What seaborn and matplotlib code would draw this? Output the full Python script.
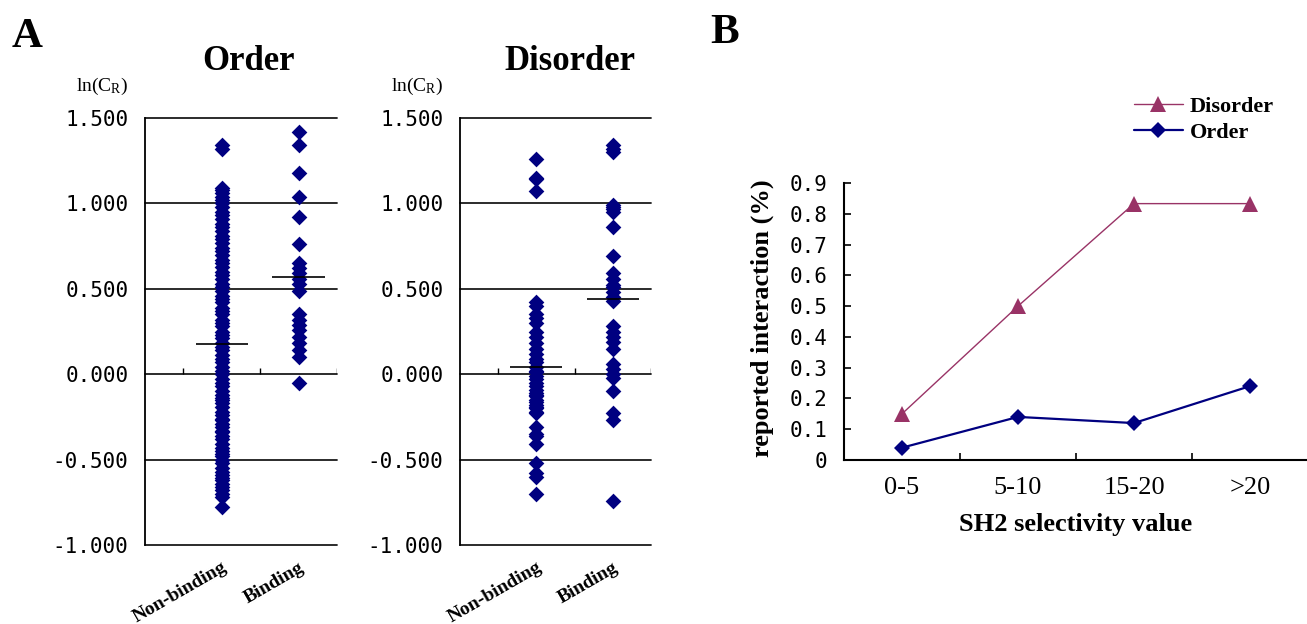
import pandas as pd
import matplotlib
matplotlib.use('Agg')
import matplotlib.pyplot as plt
import seaborn as sns

# Panel A: ln(C_R) values
order_nonbinding = [1.34, 1.32,
                    1.09, 1.08, 1.06, 1.04, 1.02, 1.00, 0.98, 0.95, 0.93, 0.91,
                    0.88, 0.86, 0.84, 0.81, 0.79, 0.77, 0.74, 0.72, 0.70, 0.67,
                    0.65, 0.63, 0.60, 0.58, 0.56, 0.53, 0.51, 0.49, 0.46, 0.44,
                    0.42, 0.39, 0.37, 0.35, 0.32, 0.30, 0.28, 0.25, 0.23, 0.21,
                    0.18, 0.16, 0.14, 0.11, 0.09, 0.07, 0.04, 0.02, 0.00, -0.03,
                    -0.05, -0.07, -0.10, -0.12, -0.14, -0.15, -0.17, -0.19, -0.22,
                    -0.24, -0.26, -0.27, -0.29, -0.31, -0.33, -0.34, -0.36, -0.38,
                    -0.41, -0.43, -0.45, -0.47, -0.48, -0.50, -0.52, -0.55, -0.57,
                    -0.59, -0.61, -0.62, -0.64, -0.66, -0.68, -0.70, -0.72, -0.78]
order_binding = [1.42, 1.34, 1.18, 1.04, 0.92, 0.76, 0.65, 0.62, 0.59, 0.56, 0.53,
                 0.49, 0.35, 0.32, 0.29, 0.26, 0.22, 0.18, 0.14, 0.10, -0.05]
disorder_nonbinding = [1.26, 1.15, 1.14, 1.07, 0.42, 0.40, 0.35, 0.33, 0.30, 0.25,
                       0.22, 0.18, 0.15, 0.12, 0.09, 0.07, 0.04, 0.02, 0.01, -0.01,
                       -0.03, -0.05, -0.07, -0.09, -0.11, -0.12, -0.13, -0.15, -0.16,
                       -0.18, -0.19, -0.20, -0.22, -0.23, -0.31, -0.35, -0.36, -0.41,
                       -0.52, -0.58, -0.60, -0.70]
disorder_binding = [1.34, 1.32, 1.30, 0.99, 0.98, 0.97, 0.95, 0.86, 0.69, 0.59, 0.56,
                    0.52, 0.51, 0.48, 0.45, 0.43, 0.28, 0.25, 0.22, 0.19, 0.15, 0.06,
                    0.03, 0.00, -0.02, -0.10, -0.23, -0.27, -0.74]
groups = ['Non-binding', 'Binding']
a_ticks = [-1.0, -0.5, 0.0, 0.5, 1.0, 1.5]

# Panel B: reported interaction (%) by SH2 selectivity value
sh2_bins = ['0-5', '5-10', '15-20', '>20']
disorder_pct = [0.15, 0.50, 0.833, 0.833]
order_pct = [0.04, 0.14, 0.12, 0.24]
b_ticks = [0, 0.1, 0.2, 0.3, 0.4, 0.5, 0.6, 0.7, 0.8, 0.9]
b_tick_labels = ['0', '0.1', '0.2', '0.3', '0.4', '0.5', '0.6', '0.7', '0.8', '0.9']

NAVY = '#000080'
PLUM = '#993366'
SERIF = 'Liberation Serif'
MONO = 'DejaVu Sans Mono'
W, H = 1307, 624

sns.set_style('white')
plt.rcParams['font.family'] = SERIF
plt.rcParams['mathtext.fontset'] = 'custom'
plt.rcParams['mathtext.rm'] = SERIF
plt.rcParams['mathtext.it'] = SERIF + ':italic'
for key in ['text.color', 'axes.labelcolor', 'xtick.color', 'ytick.color']:
    plt.rcParams[key] = 'black'

fig = plt.figure(figsize=(W / 100, H / 100), dpi=100)


def px_axes(left, top, right, bottom):
    return fig.add_axes([left / W, 1 - bottom / H, (right - left) / W, (bottom - top) / H])


def scatter_panel(ax, nonbinding, binding):
    df = pd.DataFrame({'group': ['Non-binding'] * len(nonbinding) + ['Binding'] * len(binding),
                       'lncr': nonbinding + binding})
    sns.stripplot(data=df, x='group', y='lncr', order=groups, jitter=False, marker='D',
                  size=8, color=NAVY, linewidth=0, ax=ax, zorder=3)
    # group means drawn as short horizontal bars
    means = df.groupby('group')['lncr'].mean()
    for i, g in enumerate(groups):
        ax.hlines(means[g], i - 0.34, i + 0.34, color='black', lw=1.2, zorder=4)
    ax.set_xlim(-1, 1.5)
    ax.set_ylim(-1, 1.5)
    for y in a_ticks:
        ax.axhline(y, color='#1a1a1a', lw=1.3, zorder=1, clip_on=False)
    ax.vlines([-0.5, 0.5, 1.5], 0, 0.035, color='black', lw=1, zorder=1)
    ax.set_yticks(a_ticks)
    ax.set_yticklabels([f'{v:.3f}' for v in a_ticks], fontfamily=MONO, fontsize=15)
    ax.tick_params(axis='y', length=0, pad=12)
    ax.set_xticks([0, 1])
    ax.set_xticklabels(groups, rotation=30, ha='right', rotation_mode='anchor',
                       fontweight='bold', fontsize=14)
    ax.tick_params(axis='x', length=0, pad=10)
    for side in ['top', 'right', 'bottom']:
        ax.spines[side].set_visible(False)
    ax.spines['left'].set_color('black')
    ax.spines['left'].set_linewidth(1.3)
    ax.set_xlabel('')
    ax.set_ylabel('')
    ax.annotate(r'ln(C$_{\mathrm{R}}$)', xy=(0, 1), xycoords='axes fraction',
                xytext=(-17, 32), textcoords='offset pixels', ha='right', va='center',
                fontsize=14)


ax_order = px_axes(145, 118, 337, 545)
scatter_panel(ax_order, order_nonbinding, order_binding)
ax_dis = px_axes(460, 118, 651, 545)
scatter_panel(ax_dis, disorder_nonbinding, disorder_binding)

fig.text(249 / W, 1 - 70 / H, 'Order', ha='center', va='baseline', fontsize=25, fontweight='bold')
fig.text(570 / W, 1 - 70 / H, 'Disorder', ha='center', va='baseline', fontsize=25, fontweight='bold')
fig.text(12 / W, 1 - 47 / H, 'A', ha='left', va='baseline', fontsize=31, fontweight='bold')
fig.text(710 / W, 1 - 43 / H, 'B', ha='left', va='baseline', fontsize=31, fontweight='bold')

# Panel B
axB = px_axes(844, 183, 1308, 460)
sns.lineplot(x=sh2_bins, y=disorder_pct, marker='^', markersize=11, color=PLUM, lw=1,
             markeredgewidth=0, label='Disorder', sort=False, ax=axB)
sns.lineplot(x=sh2_bins, y=order_pct, marker='D', markersize=8, color=NAVY, lw=1.6,
             markeredgewidth=0, label='Order', sort=False, ax=axB)
axB.set_xlim(-0.5, 3.5)
axB.set_ylim(0, 0.9)
axB.set_yticks(b_ticks)
axB.set_yticklabels(b_tick_labels, fontfamily=MONO, fontsize=15)
axB.tick_params(axis='y', direction='in', length=5, width=1.2, pad=12, left=True)
axB.set_xticks(range(len(sh2_bins)))
axB.set_xticklabels(sh2_bins, fontsize=19)
axB.set_xticks([0.5, 1.5, 2.5], minor=True)
axB.tick_params(axis='x', which='major', length=0, pad=12)
axB.tick_params(axis='x', which='minor', direction='in', length=5, width=1.2, bottom=True)
for side in ['top', 'right']:
    axB.spines[side].set_visible(False)
for side in ['left', 'bottom']:
    axB.spines[side].set_color('black')
    axB.spines[side].set_linewidth(1.5)
axB.set_xlabel('')
axB.set_ylabel('')
axB.legend(loc='upper left', bbox_to_anchor=(1134 / W, 1 - 96 / H), bbox_transform=fig.transFigure,
           frameon=False, prop={'family': SERIF, 'weight': 'bold', 'size': 16},
           handlelength=2.2, handletextpad=0.3, labelspacing=0.25, borderaxespad=0, borderpad=0)

fig.text(762 / W, 1 - 318 / H, 'reported interaction (%)', rotation=90, ha='center', va='center',
         fontsize=19, fontweight='bold')
fig.text(1076 / W, 1 - 524 / H, 'SH2 selectivity value', ha='center', va='center',
         fontsize=19, fontweight='bold')

fig.savefig('out.png', dpi=100)
